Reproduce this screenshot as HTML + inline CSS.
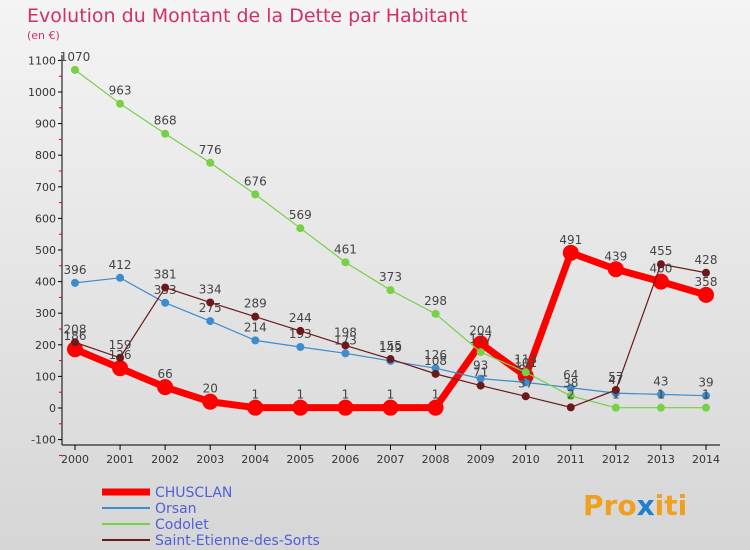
<!DOCTYPE html>
<html><head><meta charset="utf-8"><style>
body{margin:0;width:750px;height:550px;overflow:hidden;font-family:"DejaVu Sans","Liberation Sans",sans-serif;}
#bg{position:absolute;left:0;top:0;width:750px;height:550px;background:linear-gradient(#f4f4f4,#d6d6d6);}
</style></head><body>
<div id="bg"></div>
<svg id="c" width="750" height="550" style="position:absolute;left:0;top:0">
<text x="27" y="22" font-size="19" fill="#d03068">Evolution du Montant de la Dette par Habitant</text>
<text x="27" y="39" font-size="11" fill="#d03068">(en €)</text>
<g id="axes"></g><g id="series"></g><g id="legend"></g>
<text x="583" y="515" font-size="28" font-weight="bold" fill="#f0a020">Pro<tspan fill="#2080d0">x</tspan><tspan fill="#f0a020">iti</tspan></text>
</svg>
<script>
const years=[2000,2001,2002,2003,2004,2005,2006,2007,2008,2009,2010,2011,2012,2013,2014];
const yTicks=[-100,0,100,200,300,400,500,600,700,800,900,1000,1100];
const seriesNames=["CHUSCLAN","Orsan","Codolet","Saint-Etienne-des-Sorts"];
const chusclan=[186,126,66,20,1,1,1,1,1,204,101,491,439,400,358];
const orsan=[396,412,333,275,214,193,173,149,126,93,81,64,47,43,39];
const codolet=[1070,963,868,776,676,569,461,373,298,177,113,38,1,1,1];
const stEtienne=[208,159,381,334,289,244,198,155,108,71,37,2,57,455,428];
const NS="http://www.w3.org/2000/svg";
function X(i){return 75+i*(706-75)/(years.length-1);}
function Y(v){return 408-v*0.316;}
function mk(t,a,p){const e=document.createElementNS(NS,t);for(const k in a)e.setAttribute(k,a[k]);p.appendChild(e);return e;}
const ax=document.getElementById('axes');
const yl=mk('line',{x1:62,y1:55,x2:62,y2:445,stroke:'#000'},ax);

const xl=mk('line',{x1:62,y1:445,x2:720,y2:445,stroke:'#000'},ax);

yTicks.forEach(v=>{const y=Y(v);
 mk('line',{x1:58,y1:y,x2:62,y2:y,stroke:'#000'},ax);
 mk('line',{x1:59,y1:y+15.8,x2:62,y2:y+15.8,stroke:'#e00'},ax);
 const t=mk('text',{x:56,y:y+4,'font-size':11,'text-anchor':'end',fill:'#333'},ax);t.textContent=v;
 });
years.forEach((yr,i)=>{mk('line',{x1:X(i),y1:445,x2:X(i),y2:450,stroke:'#000'},ax);
 const t=mk('text',{x:X(i),y:463,'font-size':11,'text-anchor':'middle',fill:'#333'},ax);t.textContent=yr;
 });
const sg=document.getElementById('series');
const defs=[[stEtienne,'#6a1a1a',1.2,4,'saint-etienne'],[codolet,'#77d045',1.2,4,'codolet'],[orsan,'#3d8ccc',1.2,4,'orsan'],[chusclan,'#ff0000',7,8,'chusclan']];
[3,2,1,0].forEach(k=>{const [d,c,w,r,n]=defs[k];
 const pl=mk('polyline',{points:d.map((v,i)=>X(i)+','+Y(v)).join(' '),fill:'none',stroke:c,'stroke-width':w},sg);
 
 d.forEach((v,i)=>{const p=mk('circle',{cx:X(i),cy:Y(v),r:r,fill:c},sg);
  
  const t=mk('text',{x:X(i),y:Y(v)-9,'font-size':12,'text-anchor':'middle',fill:'#444'},sg);t.textContent=v;
  });});
const lg=document.getElementById('legend');
const lc=['#ff0000','#3d8ccc','#77d045','#6a1a1a'],lw=[7,2,2,2];
seriesNames.forEach((s,i)=>{const y=492+i*16;
 const l=mk('line',{x1:102,y1:y,x2:150,y2:y,stroke:lc[i],'stroke-width':lw[i]},lg);
 
 const t=mk('text',{x:155,y:y+5,'font-size':14,fill:'#5060d8'},lg);t.textContent=s;
 });
</script>
</body></html>
